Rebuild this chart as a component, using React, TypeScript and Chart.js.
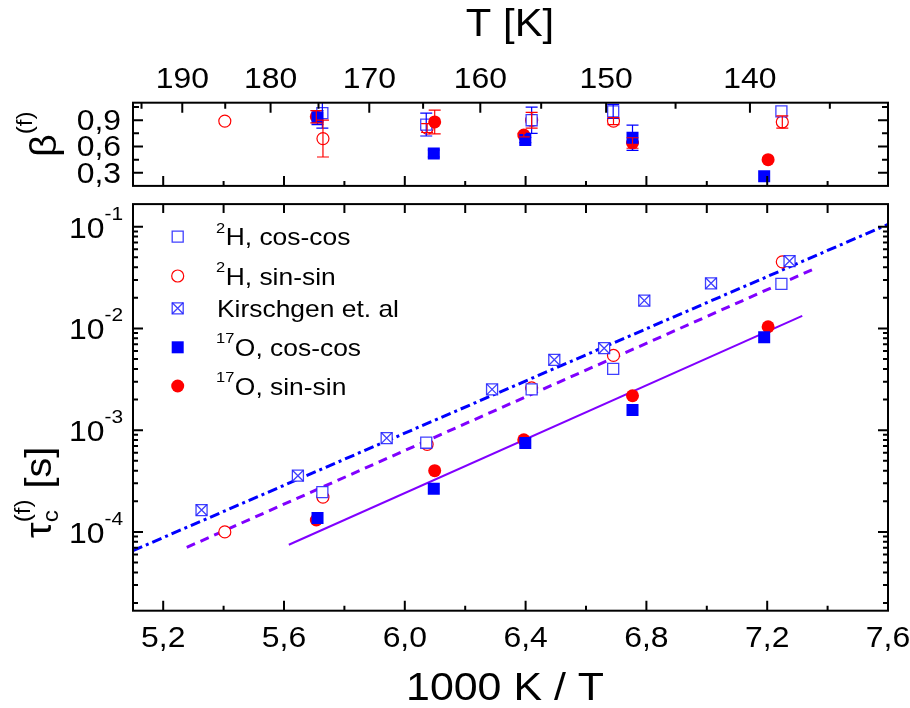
import React, { useEffect, useRef } from 'react';
import { Chart, registerables } from 'chart.js';

Chart.register(...registerables);

// ---------------- data ----------------
const X_MIN = 5.1;
const X_MAX = 7.6;
const TAU_MIN = 1.68e-5;
const TAU_MAX = 0.167;
const BETA_MIN = 0.15;
const BETA_MAX = 1.1;

const xMajorTicks = [5.2, 5.6, 6.0, 6.4, 6.8, 7.2, 7.6];
const xMinorTicks = [5.4, 5.8, 6.2, 6.6, 7.0, 7.4];
const tempMajorTicks = [190, 180, 170, 160, 150, 140];
const tempMinorTicks = [195, 185, 175, 165, 155, 145, 135];
const betaMajorTicks = [0.3, 0.6, 0.9];
const betaMinorTicks = [0.45, 0.75, 1.05];
const tauDecades = [-4, -3, -2, -1];

// 2H, cos-cos (open squares)
const h2CosX = [5.727, 6.071, 6.42, 6.69, 7.247];
const h2CosTau = [2.46e-4, 7.53e-4, 2.52e-3, 4.0e-3, 2.74e-2];
const h2CosBeta = [0.98, 0.85, 0.9, 1.0, 1.0];
const h2CosBetaErr = [0.17, 0.13, 0.15, 0.08, 0];

// 2H, sin-sin (open circles)
const h2SinX = [5.404, 5.729, 6.074, 6.42, 6.691, 7.25];
const h2SinTau = [1.0e-4, 2.2e-4, 7.26e-4, 2.61e-3, 5.43e-3, 4.52e-2];
const h2SinBeta = [0.89, 0.69, 0.81, 0.9, 0.89, 0.88];
const h2SinBetaErr = [0, 0.21, 0.05, 0.09, 0.04, 0.07];

// Kirschgen et al. (crossed squares)
const kirX = [5.327, 5.646, 5.94, 6.289, 6.495, 6.66, 6.793, 7.014, 7.274];
const kirTau = [1.64e-4, 3.57e-4, 8.36e-4, 2.52e-3, 4.92e-3, 6.4e-3, 1.88e-2, 2.78e-2, 4.6e-2];

// 17O, cos-cos (filled squares)
const o17CosX = [5.711, 6.096, 6.399, 6.754, 7.19];
const o17CosTau = [1.37e-4, 2.65e-4, 7.48e-4, 1.58e-3, 8.18e-3];
const o17CosBeta = [0.93, 0.52, 0.675, 0.7, 0.26];
const o17CosBetaErr = [0.08, 0.04, 0.03, 0.145, 0];

// 17O, sin-sin (filled circles)
const o17SinX = [5.707, 6.099, 6.394, 6.754, 7.203];
const o17SinTau = [1.31e-4, 4.0e-4, 8.05e-4, 2.18e-3, 1.04e-2];
const o17SinBeta = [0.94, 0.88, 0.73, 0.64, 0.45];
const o17SinBetaErr = [0.07, 0.135, 0.02, 0.06, 0];

// fit lines (end points)
const fitKirX = [5.1, 7.6];
const fitKirTau = [6.55e-5, 0.1055];
const fitH2X = [5.278, 7.365];
const fitH2Tau = [7.05e-5, 3.97e-2];
const fitO17X = [5.616, 7.316];
const fitO17Tau = [7.48e-5, 1.33e-2];

const legendSup = ['2', '2', '', '17', '17'];
const legendText = ['H, cos-cos', 'H, sin-sin', 'Kirschgen et. al', 'O, cos-cos', 'O, sin-sin'];

// ---------------- styles ----------------
const FONT = '"Liberation Sans", Arial, Helvetica, sans-serif';
const SX = 1.1;
const BLUE = '#0000ff';
const RED = '#ff0000';
const VIOLET = '#8000ff';
const OPEN_BLUE = 'rgba(30,30,255,0.85)';

const S_OPEN_SQ = { pointStyle: 'rect', pointRadius: 7.8, borderColor: OPEN_BLUE, backgroundColor: '#ffffff', borderWidth: 1.3 };
const S_OPEN_CI = { pointStyle: 'circle', pointRadius: 6, borderColor: RED, backgroundColor: '#ffffff', borderWidth: 1.2 };
const S_FILL_SQ = { pointStyle: 'rect', pointRadius: 8.5, borderColor: BLUE, backgroundColor: BLUE, borderWidth: 0 };
const S_FILL_CI = { pointStyle: 'circle', pointRadius: 6.5, borderColor: RED, backgroundColor: RED, borderWidth: 0 };

const pts = (xs: number[], ys: number[]) => xs.map((x, i) => ({ x, y: ys[i] }));

function txt(ctx: CanvasRenderingContext2D, s: string, x: number, y: number, size: number, align: CanvasTextAlign = 'left') {
  ctx.save();
  ctx.font = `${size}px ${FONT}`;
  ctx.fillStyle = '#000';
  ctx.textAlign = align;
  ctx.textBaseline = 'alphabetic';
  ctx.translate(x, y);
  ctx.scale(SX, 1);
  ctx.fillText(s, 0, 0);
  ctx.restore();
}
function tw(ctx: CanvasRenderingContext2D, s: string, size: number) {
  ctx.save();
  ctx.font = `${size}px ${FONT}`;
  const w = ctx.measureText(s).width * SX;
  ctx.restore();
  return w;
}
type Part = { s: string; size: number; dv: number; stay?: boolean };
function rotText(ctx: CanvasRenderingContext2D, parts: Part[], px: number, py: number) {
  ctx.save();
  ctx.translate(px, py);
  ctx.rotate(-Math.PI / 2);
  let u = 0;
  for (const p of parts) {
    ctx.save();
    ctx.font = `${p.size}px ${FONT}`;
    ctx.fillStyle = '#000';
    ctx.textBaseline = 'alphabetic';
    ctx.textAlign = 'left';
    ctx.translate(u, p.dv);
    ctx.scale(SX, 1);
    ctx.fillText(p.s, 0, 0);
    const w = ctx.measureText(p.s).width * SX;
    ctx.restore();
    if (!p.stay) u += w;
  }
  ctx.restore();
}

function frame(ctx: CanvasRenderingContext2D, a: any) {
  ctx.save();
  ctx.strokeStyle = '#000';
  ctx.lineWidth = 2;
  ctx.strokeRect(a.left, a.top, a.right - a.left, a.bottom - a.top);
  ctx.restore();
}

const topDecor = {
  id: 'topDecor',
  afterDatasetsDraw(chart: any) {
    const ctx: CanvasRenderingContext2D = chart.ctx;
    const a = chart.chartArea;
    const xs = chart.scales.x;
    const ys = chart.scales.y;
    // error bars
    chart.data.datasets.forEach((ds: any) => {
      if (!ds.errs) return;
      ctx.save();
      ctx.strokeStyle = ds.errColor;
      ctx.lineWidth = 1.2;
      ctx.beginPath();
      ds.data.forEach((p: any, i: number) => {
        const e = ds.errs[i];
        if (!e) return;
        const x = xs.getPixelForValue(p.x);
        const yT = ys.getPixelForValue(p.y + e);
        const yB = ys.getPixelForValue(p.y - e);
        ctx.moveTo(x, Math.max(yT, a.top));
        ctx.lineTo(x, Math.min(yB, a.bottom));
        if (yT >= a.top) { ctx.moveTo(x - 6, yT); ctx.lineTo(x + 6, yT); }
        if (yB <= a.bottom) { ctx.moveTo(x - 6, yB); ctx.lineTo(x + 6, yB); }
      });
      ctx.stroke();
      ctx.restore();
    });
    frame(ctx, a);
    ctx.save();
    ctx.strokeStyle = '#000';
    ctx.lineWidth = 2;
    ctx.beginPath();
    xMajorTicks.forEach(v => { const x = xs.getPixelForValue(v); ctx.moveTo(x, a.bottom); ctx.lineTo(x, a.bottom - 10); });
    xMinorTicks.forEach(v => { const x = xs.getPixelForValue(v); ctx.moveTo(x, a.bottom); ctx.lineTo(x, a.bottom - 5); });
    tempMajorTicks.forEach(t => { const x = xs.getPixelForValue(1000 / t); ctx.moveTo(x, a.top); ctx.lineTo(x, a.top + 10); });
    tempMinorTicks.forEach(t => { const x = xs.getPixelForValue(1000 / t); if (x > a.left && x < a.right) { ctx.moveTo(x, a.top); ctx.lineTo(x, a.top + 6); } });
    betaMajorTicks.forEach(v => { const y = ys.getPixelForValue(v); ctx.moveTo(a.left, y); ctx.lineTo(a.left + 10, y); ctx.moveTo(a.right, y); ctx.lineTo(a.right - 10, y); });
    betaMinorTicks.forEach(v => { const y = ys.getPixelForValue(v); ctx.moveTo(a.left, y); ctx.lineTo(a.left + 6, y); ctx.moveTo(a.right, y); ctx.lineTo(a.right - 6, y); });
    ctx.stroke();
    ctx.restore();
    // labels
    tempMajorTicks.forEach(t => txt(ctx, String(t), xs.getPixelForValue(1000 / t), 88, 29, 'center'));
    betaMajorTicks.forEach(v => txt(ctx, v.toFixed(1).replace('.', ','), 121, ys.getPixelForValue(v) + 10, 29, 'right'));
    // titles
    txt(ctx, 'T [K]', 510, 36, 38, 'center');
    rotText(ctx, [
      { s: 'β', size: 36, dv: 0 },
      { s: '(f)', size: 22, dv: -24 },
    ], 56, 157);
  },
};

const OFF = 195;
const mainDecor = {
  id: 'mainDecor',
  afterDatasetsDraw(chart: any) {
    const ctx: CanvasRenderingContext2D = chart.ctx;
    const a = chart.chartArea;
    const xs = chart.scales.x;
    const ys = chart.scales.y;
    frame(ctx, a);
    ctx.save();
    ctx.strokeStyle = '#000';
    ctx.lineWidth = 2;
    ctx.beginPath();
    xMajorTicks.forEach(v => { const x = xs.getPixelForValue(v); ctx.moveTo(x, a.bottom); ctx.lineTo(x, a.bottom - 10); ctx.moveTo(x, a.top); ctx.lineTo(x, a.top + 9); });
    xMinorTicks.forEach(v => { const x = xs.getPixelForValue(v); ctx.moveTo(x, a.bottom); ctx.lineTo(x, a.bottom - 5); ctx.moveTo(x, a.top); ctx.lineTo(x, a.top + 9); });
    for (let d = -5; d <= 0; d++) {
      for (let m = 1; m <= 9; m++) {
        const v = m * Math.pow(10, d);
        if (v < TAU_MIN || v > TAU_MAX) continue;
        const y = ys.getPixelForValue(v);
        const len = m === 1 ? 10 : 5;
        ctx.moveTo(a.left, y); ctx.lineTo(a.left + len, y);
        ctx.moveTo(a.right, y); ctx.lineTo(a.right - len, y);
      }
    }
    ctx.stroke();
    ctx.restore();
    // x labels
    xMajorTicks.forEach(v => txt(ctx, v.toFixed(1).replace('.', ','), xs.getPixelForValue(v), 647 - OFF, 29, 'center'));
    // log labels
    tauDecades.forEach(d => {
      const y = ys.getPixelForValue(Math.pow(10, d));
      const sup = String(d);
      const sw = tw(ctx, sup, 19);
      txt(ctx, sup, 123, y - 7, 19, 'right');
      txt(ctx, '10', 123 - sw, y + 11, 29, 'right');
    });
    // titles
    txt(ctx, '1000 K / T', 505, 700 - OFF, 39, 'center');
    rotText(ctx, [
      { s: 'τ', size: 36, dv: 0 },
      { s: 'c', size: 22, dv: 7, stay: true },
      { s: '(f)', size: 22, dv: -21 },
      { s: ' [s]', size: 36, dv: 0 },
    ], 51, 538 - OFF);
    // legend
    const rowsY = [236.7, 276, 308.3, 347.3, 386];
    const mx = 177.7;
    rowsY.forEach((py, i) => {
      const y = py - OFF;
      ctx.save();
      ctx.lineWidth = 1.3;
      if (i === 0 || i === 2) {
        const h = 5.5;
        ctx.fillStyle = '#fff';
        ctx.strokeStyle = OPEN_BLUE;
        ctx.beginPath(); ctx.rect(mx - h, y - h, 2 * h, 2 * h); ctx.fill(); ctx.stroke();
        if (i === 2) {
          ctx.beginPath();
          ctx.moveTo(mx - h, y - h); ctx.lineTo(mx + h, y + h);
          ctx.moveTo(mx + h, y - h); ctx.lineTo(mx - h, y + h);
          ctx.stroke();
        }
      } else if (i === 1) {
        ctx.strokeStyle = RED; ctx.lineWidth = 1.2;
        ctx.beginPath(); ctx.arc(mx, y, 6, 0, Math.PI * 2); ctx.stroke();
      } else if (i === 3) {
        ctx.fillStyle = BLUE; ctx.fillRect(mx - 6, y - 6, 12, 12);
      } else {
        ctx.fillStyle = RED; ctx.beginPath(); ctx.arc(mx, y, 6.5, 0, Math.PI * 2); ctx.fill();
      }
      ctx.restore();
      let tx = 216;
      if (legendSup[i]) {
        txt(ctx, legendSup[i], tx, y - 4, 15);
        tx += tw(ctx, legendSup[i], 15) + 0.5;
      } else {
        tx = 217;
      }
      txt(ctx, legendText[i], tx, y + 8.5, 24);
    });
  },
};

function topConfig(): any {
  return {
    type: 'scatter',
    data: {
      datasets: [
        { ...S_FILL_SQ, data: pts(o17CosX, o17CosBeta), errs: o17CosBetaErr, errColor: BLUE, order: 1 },
        { ...S_FILL_CI, data: pts(o17SinX, o17SinBeta), errs: o17SinBetaErr, errColor: RED, order: 2 },
        { ...S_OPEN_SQ, data: pts(h2CosX, h2CosBeta), errs: h2CosBetaErr, errColor: BLUE, order: 3 },
        { ...S_OPEN_CI, data: pts(h2SinX, h2SinBeta), errs: h2SinBetaErr, errColor: RED, order: 4 },
      ],
    },
    options: {
      responsive: false,
      animation: false,
      events: [],
      layout: { padding: { left: 133, right: 22, top: 102.7, bottom: 8.3 } },
      plugins: { legend: { display: false }, tooltip: { enabled: false } },
      scales: {
        x: { type: 'linear', min: X_MIN, max: X_MAX, display: false },
        y: { type: 'linear', min: BETA_MIN, max: BETA_MAX, display: false },
      },
    },
    plugins: [topDecor],
  };
}

function mainConfig(): any {
  return {
    type: 'scatter',
    data: {
      datasets: [
        { type: 'crossRot' as any, ...{}, data: [], hidden: true },
        { pointStyle: 'crossRot', pointRadius: 7.8, borderColor: OPEN_BLUE, borderWidth: 1.3, backgroundColor: '#fff', data: pts(kirX, kirTau), order: 1 },
        { ...S_OPEN_SQ, data: pts(kirX, kirTau), order: 2 },
        { ...S_OPEN_SQ, data: pts(h2CosX, h2CosTau), order: 3 },
        { ...S_OPEN_CI, data: pts(h2SinX, h2SinTau), order: 4 },
        { ...S_FILL_SQ, data: pts(o17CosX, o17CosTau), order: 5 },
        { ...S_FILL_CI, data: pts(o17SinX, o17SinTau), order: 6 },
        { type: 'line', data: pts(fitKirX, fitKirTau), showLine: true, borderColor: BLUE, borderWidth: 3, borderDash: [10, 4, 3, 4], pointRadius: 0, fill: false, order: 10 },
        { type: 'line', data: pts(fitH2X, fitH2Tau), showLine: true, borderColor: VIOLET, borderWidth: 3, borderDash: [9, 6], pointRadius: 0, fill: false, order: 10 },
        { type: 'line', data: pts(fitO17X, fitO17Tau), showLine: true, borderColor: VIOLET, borderWidth: 2, pointRadius: 0, fill: false, order: 10 },
      ].filter((d: any) => !d.hidden),
    },
    options: {
      responsive: false,
      animation: false,
      events: [],
      layout: { padding: { left: 133, right: 22, top: 4, bottom: 97.3 } },
      plugins: { legend: { display: false }, tooltip: { enabled: false } },
      scales: {
        x: { type: 'linear', min: X_MIN, max: X_MAX, display: false },
        y: { type: 'logarithmic', min: TAU_MIN, max: TAU_MAX, display: false },
      },
    },
    plugins: [mainDecor],
  };
}

export default function App() {
  const topRef = useRef<HTMLCanvasElement>(null);
  const mainRef = useRef<HTMLCanvasElement>(null);
  useEffect(() => {
    const c1 = new Chart(topRef.current as HTMLCanvasElement, topConfig());
    const c2 = new Chart(mainRef.current as HTMLCanvasElement, mainConfig());
    return () => { c1.destroy(); c2.destroy(); };
  }, []);
  return (
    <div style={{ position: 'absolute', left: 0, top: 0, width: 910, height: 708, background: '#fff', overflow: 'hidden' }}>
      <canvas ref={topRef} width={910} height={195} style={{ position: 'absolute', left: 0, top: 0 }} />
      <canvas ref={mainRef} width={910} height={513} style={{ position: 'absolute', left: 0, top: 195 }} />
    </div>
  );
}
